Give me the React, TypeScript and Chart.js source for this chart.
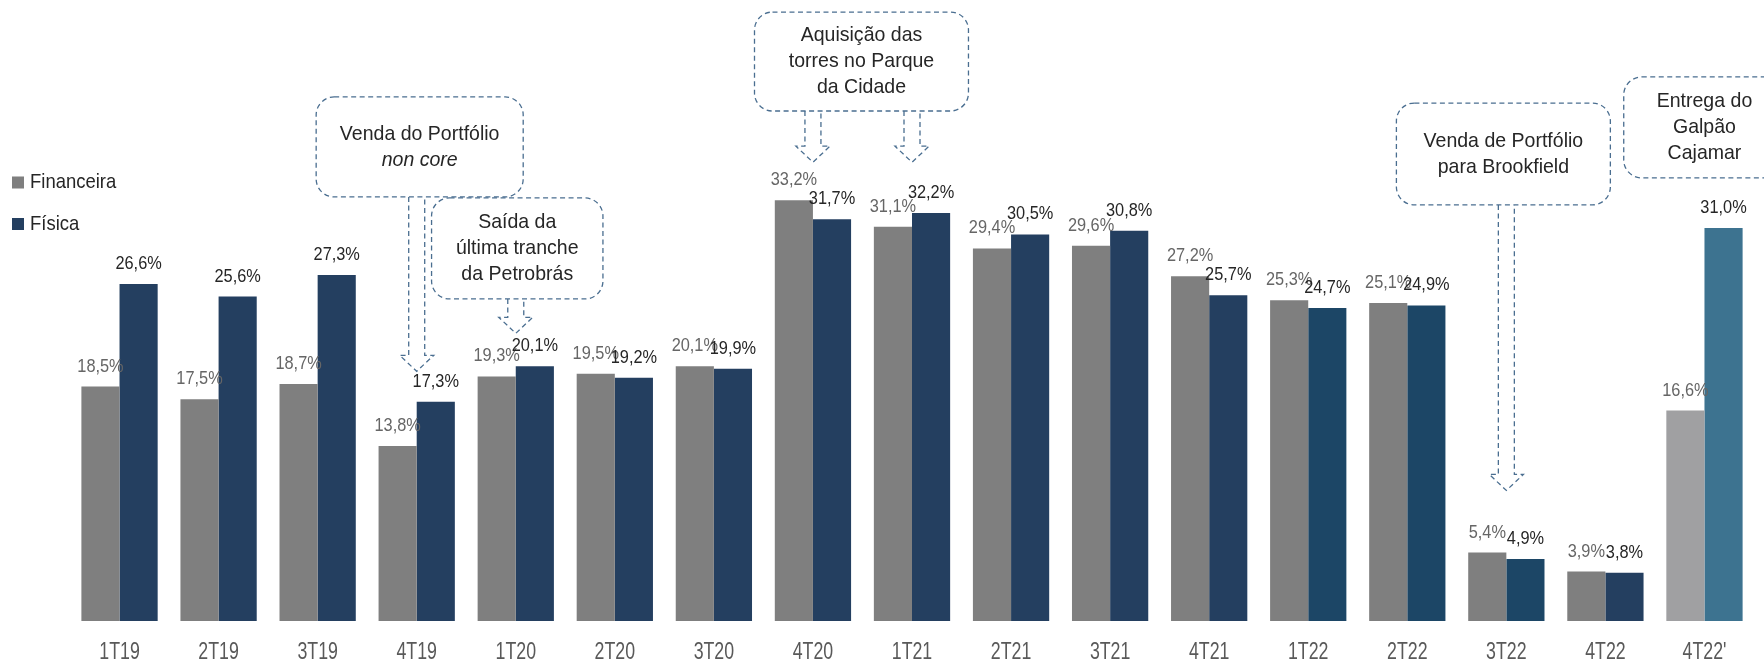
import { useEffect, useRef } from "react";
import { Chart, registerables } from "chart.js";

Chart.register(...registerables);

// Quarterly vacancy rates (%)
const quarters = ["1T19", "2T19", "3T19", "4T19", "1T20", "2T20", "3T20", "4T20", "1T21", "2T21", "3T21", "4T21", "1T22", "2T22", "3T22", "4T22", "4T22'"];
const financeira = [18.5, 17.5, 18.7, 13.8, 19.3, 19.5, 20.1, 33.2, 31.1, 29.4, 29.6, 27.2, 25.3, 25.1, 5.4, 3.9, 16.6];
const fisica = [26.6, 25.6, 27.3, 17.3, 20.1, 19.2, 19.9, 31.7, 32.2, 30.5, 30.8, 25.7, 24.7, 24.9, 4.9, 3.8, 31.0];
const seriesNames = ["Financeira", "Física"];

const GREY = "#7f7f7f";
const NAVY = "#243f60";
const greyFills = quarters.map((_, i) => (i === quarters.length - 1 ? "#a0a0a2" : GREY));
const navyFills = quarters.map((_, i) =>
  i === quarters.length - 1 ? "#3d7390" : i >= 12 && i <= 14 ? "#1c4666" : NAVY
);
const labelColors = ["#666666", "#262626"];

const FONT = "'Liberation Sans', Arial, sans-serif";

// Callout boxes: horizontal placement in category units, vertical in value units
type Callout = {
  lines: { text: string; italic?: boolean }[];
  cx: number;
  w: number;
  top: number;
  bottom: number;
  arrows: { at: number; tip: number }[];
};

const callouts: Callout[] = [
  {
    lines: [{ text: "Venda do Portfólio" }, { text: "non core", italic: true }],
    cx: 3.03, w: 2.09, top: 41.35, bottom: 33.46,
    arrows: [{ at: 3, tip: 19.7 }],
  },
  {
    lines: [{ text: "Saída da" }, { text: "última tranche" }, { text: "da Petrobrás" }],
    cx: 4.015, w: 1.73, top: 33.38, bottom: 25.41,
    arrows: [{ at: 4, tip: 22.7 }],
  },
  {
    lines: [{ text: "Aquisição das" }, { text: "torres no Parque" }, { text: "da Cidade" }],
    cx: 7.49, w: 2.16, top: 48.05, bottom: 40.24,
    arrows: [{ at: 7, tip: 36.2 }, { at: 8, tip: 36.2 }],
  },
  {
    lines: [{ text: "Venda de Portfólio" }, { text: "para Brookfield" }],
    cx: 13.97, w: 2.16, top: 40.87, bottom: 32.83,
    arrows: [{ at: 14, tip: 10.3 }],
  },
  {
    lines: [{ text: "Entrega do" }, { text: "Galpão" }, { text: "Cajamar" }],
    cx: 16.0, w: 1.63, top: 42.93, bottom: 34.96,
    arrows: [],
  },
];

const fmt = (v: number) => v.toFixed(1).replace(".", ",") + "%";

// Text drawn with a horizontal squeeze to give a condensed face
function narrowText(
  ctx: CanvasRenderingContext2D,
  text: string,
  x: number,
  y: number,
  squeeze: number,
  align: CanvasTextAlign
) {
  ctx.save();
  ctx.translate(x, y);
  ctx.scale(squeeze, 1);
  ctx.textAlign = align;
  ctx.fillText(text, 0, 0);
  ctx.restore();
}

const valueLabels = {
  id: "valueLabels",
  afterDatasetsDraw(chart: any) {
    const ctx = chart.ctx as CanvasRenderingContext2D;
    ctx.save();
    ctx.font = `19px ${FONT}`;
    ctx.textBaseline = "alphabetic";
    chart.data.datasets.forEach((ds: any, di: number) => {
      const meta = chart.getDatasetMeta(di);
      ctx.fillStyle = labelColors[di];
      meta.data.forEach((bar: any, i: number) => {
        narrowText(ctx, fmt(ds.data[i]), bar.x, bar.y - 15, 0.86, "center");
      });
    });
    ctx.restore();
  },
};

const overlay = {
  id: "overlay",
  afterDraw(chart: any) {
    const ctx = chart.ctx as CanvasRenderingContext2D;
    const xs = chart.scales.x;
    const ys = chart.scales.y;
    const catW = xs.getPixelForValue(1) - xs.getPixelForValue(0);

    // category labels under the axis
    ctx.save();
    ctx.font = `24px ${FONT}`;
    ctx.fillStyle = "#595959";
    ctx.textBaseline = "middle";
    xs.ticks.forEach((_: any, i: number) => {
      narrowText(ctx, String(xs.getLabelForValue(i)), xs.getPixelForTick(i), chart.chartArea.bottom + 31, 0.74, "center");
    });
    ctx.restore();

    // legend
    ctx.save();
    ctx.font = `21px ${FONT}`;
    ctx.textBaseline = "middle";
    const legendRows = [182.5, 224];
    chart.data.datasets.forEach((ds: any, di: number) => {
      const y = legendRows[di];
      ctx.fillStyle = di === 0 ? GREY : NAVY;
      ctx.fillRect(12, y - 6, 12, 12);
      ctx.fillStyle = "#262626";
      narrowText(ctx, ds.label, 30, y, 0.88, "left");
    });
    ctx.restore();

    // callouts
    ctx.save();
    ctx.strokeStyle = "#4a6e90";
    ctx.lineWidth = 1.3;
    ctx.setLineDash([5, 3.5]);
    for (const c of callouts) {
      const cx = xs.getPixelForValue(0) + c.cx * catW;
      const w = c.w * catW;
      const top = ys.getPixelForValue(c.top);
      const bottom = ys.getPixelForValue(c.bottom);
      ctx.beginPath();
      ctx.roundRect(cx - w / 2, top, w, bottom - top, 18);
      ctx.fillStyle = "#ffffff";
      ctx.fill();
      ctx.stroke();

      const lh = 26;
      const midY = (top + bottom) / 2;
      ctx.fillStyle = "#262626";
      ctx.textBaseline = "middle";
      c.lines.forEach((ln, i) => {
        ctx.font = `${ln.italic ? "italic " : ""}21px ${FONT}`;
        narrowText(ctx, ln.text, cx, midY + (i - (c.lines.length - 1) / 2) * lh, 0.93, "center");
      });

      for (const a of c.arrows) {
        const x = xs.getPixelForValue(a.at);
        const tip = ys.getPixelForValue(a.tip);
        const sw = 8, hw = 17, hh = 16;
        ctx.beginPath();
        ctx.moveTo(x - sw, bottom);
        ctx.lineTo(x - sw, tip - hh);
        ctx.lineTo(x - hw, tip - hh);
        ctx.lineTo(x, tip);
        ctx.lineTo(x + hw, tip - hh);
        ctx.lineTo(x + sw, tip - hh);
        ctx.lineTo(x + sw, bottom);
        ctx.stroke();
      }
    }
    ctx.restore();
  },
};

export default function App() {
  const canvasRef = useRef<HTMLCanvasElement | null>(null);

  useEffect(() => {
    document.body.style.margin = "0";
    const canvas = canvasRef.current;
    if (!canvas) return;
    const chart = new Chart(canvas, {
      type: "bar",
      data: {
        labels: quarters,
        datasets: [
          {
            label: seriesNames[0],
            data: financeira,
            backgroundColor: greyFills,
            borderWidth: 0,
            categoryPercentage: 0.77,
            barPercentage: 1,
          },
          {
            label: seriesNames[1],
            data: fisica,
            backgroundColor: navyFills,
            borderWidth: 0,
            categoryPercentage: 0.77,
            barPercentage: 1,
          },
        ],
      },
      options: {
        responsive: false,
        devicePixelRatio: 1,
        animation: false,
        layout: { padding: { left: 70, right: 10, top: 0, bottom: 39 } },
        plugins: {
          legend: { display: false },
          tooltip: { enabled: false },
        },
        scales: {
          x: {
            grid: { display: false, drawTicks: false },
            border: { display: false },
            ticks: { display: false },
          },
          y: {
            display: false,
            min: 0,
            max: 49,
          },
        },
      },
      plugins: [valueLabels, overlay],
    });
    return () => chart.destroy();
  }, []);

  return (
    <div style={{ width: 1764, height: 660 }}>
      <canvas ref={canvasRef} width={1764} height={660} style={{ display: "block" }} />
    </div>
  );
}
